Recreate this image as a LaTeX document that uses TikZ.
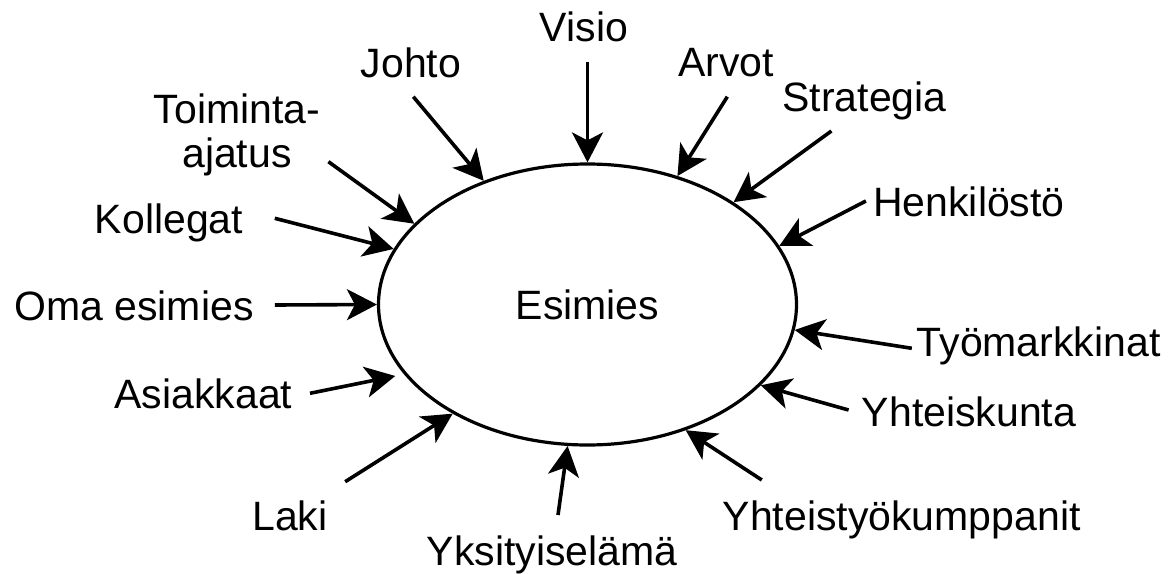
\documentclass[tikz,border=0pt]{standalone}
\usepackage{fontspec}
\setmainfont{Liberation Sans}
\usetikzlibrary{arrows.meta,shapes.geometric}
\begin{document}
\begin{tikzpicture}[x=1pt,y=-1pt,
  lbl/.style={anchor=base, inner sep=0pt, font=\fontsize{41}{44}\selectfont},
  infl/.style={line width=3.6pt, -{Stealth[length=30pt,width=31pt,inset=8pt]}},
]
\useasboundingbox (0,0) rectangle (1175,573);

% central ellipse
\node[draw, ellipse, line width=3.2pt, minimum width=418pt, minimum height=281pt,
      inner sep=0pt, font=\fontsize{41}{44}\selectfont] (esimies) at (587.5,304.5) {Esimies};

% surrounding labels
\node[lbl] (visio)   at (584,41.7)   {Visio};
\node[lbl] (johto)   at (411,77)     {Johto};
\node[lbl] (arvot)   at (726,76.7)   {Arvot};
\node[lbl] (strat)   at (864.5,111.7){Strategia};
\node[lbl] (henk)    at (969,216.7)  {Henkilöstö};
\node[lbl, align=center] (toim) at (237,167) {Toiminta-\\ajatus};
\node[lbl] (koll)    at (169,233)    {Kollegat};
\node[lbl] (oma)     at (134,320.7)  {Oma esimies};
\node[lbl] (asiak)   at (203.4,408.3){Asiakkaat};
\node[lbl] (laki)    at (290,530)    {Laki};
\node[lbl] (yksit)   at (552,565)    {Yksityiselämä};
\node[lbl] (tyom)    at (1038.6,356) {Työmarkkinat};
\node[lbl] (yhtk)    at (969,426)    {Yhteiskunta};
\node[lbl] (yhtt)    at (901.7,530)  {Yhteistyökumppanit};

% arrow tails
\coordinate (visio-s) at (587.5,61.7);
\coordinate (johto-s) at (413.3,96.7);
\coordinate (arvot-s) at (727.3,96.7);
\coordinate (strat-s) at (831.4,131);
\coordinate (henk-s)  at (865.9,201);
\coordinate (toim-s)  at (328.4,161.7);
\coordinate (koll-s)  at (274.8,218.3);
\coordinate (oma-s)   at (274.8,305);
\coordinate (asiak-s) at (310,393.3);
\coordinate (asiak-e) at (395.3,376);
\coordinate (laki-s)  at (345.2,481.7);
\coordinate (yksit-s) at (558,515);
\coordinate (yhtt-s)  at (761.8,480);
\coordinate (yhtk-s)  at (848.6,410);
\coordinate (tyom-s)  at (911.8,348.3);

% influences pointing at the ellipse
\draw[infl] (visio-s) -- (esimies.90);
\draw[infl] (johto-s) -- (esimies.130.4);
\draw[infl] (arvot-s) -- (esimies.55.3);
\draw[infl] (strat-s) -- (esimies.35.4);
\draw[infl] (henk-s)  -- (esimies.17.3);
\draw[infl] (toim-s)  -- (esimies.155.7);
\draw[infl] (koll-s)  -- (esimies.164.5);
\draw[infl] (oma-s)   -- (esimies.180);
\draw[infl] (asiak-s) -- (asiak-e);
\draw[infl] (laki-s)  -- (esimies.219.1);
\draw[infl] (yksit-s) -- (esimies.262.8);
\draw[infl] (yhtt-s)  -- (esimies.308.1);
\draw[infl] (yhtk-s)  -- (esimies.335.5);
\draw[infl] (tyom-s)  -- (esimies.353.5);
\end{tikzpicture}
\end{document}
